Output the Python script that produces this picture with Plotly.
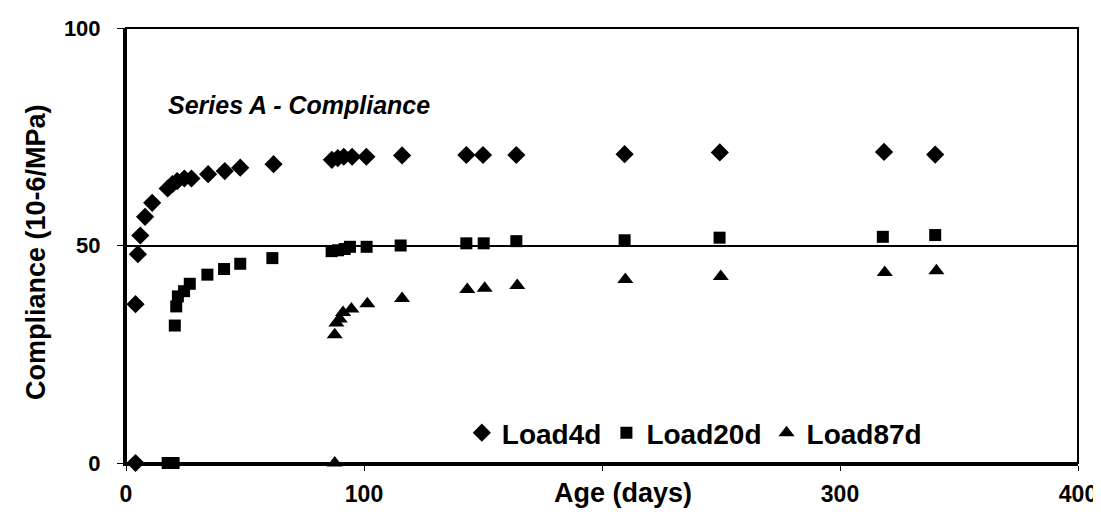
import plotly.graph_objects as go

# Data
load4d_x = [4, 4, 5, 6, 8, 11, 17.5, 19.5, 21.5, 24.5, 27.5, 34.5, 41.5, 48, 62,
            86.5, 89, 91.5, 95, 101, 116, 143, 150, 164, 209.5, 249.5, 318.5, 340]
load4d_y = [0, 36.5, 48, 52.3, 56.6, 59.8, 63.1, 64.1, 64.8, 65.4, 65.4, 66.4, 67.1, 67.9, 68.7,
            69.7, 70.1, 70.4, 70.4, 70.4, 70.7, 70.8, 70.8, 70.8, 71.0, 71.4, 71.5, 70.9]

load20d_x = [17.5, 20, 20.5, 21.1, 21.8, 24.4, 26.8, 34.2, 41.2, 48, 61.5, 86.4, 89.1, 91.9,
             94.1, 101.1, 115.4, 143, 150.3, 164, 209.5, 249.4, 318, 340]
load20d_y = [0, 0, 31.6, 36.0, 38.3, 39.5, 41.2, 43.3, 44.6, 45.8, 47.1, 48.7, 48.9, 49.2,
             49.7, 49.7, 50.0, 50.5, 50.5, 51.0, 51.2, 51.8, 52.0, 52.4]

load87d_x = [87.7, 87.7, 88.4, 89.8, 91.2, 94.7, 101.4, 116, 143.4, 150.7, 164.4, 209.8, 249.9, 318.8, 340.5]
load87d_y = [0, 29.5, 32.2, 33.1, 34.6, 35.4, 36.6, 37.8, 39.9, 40.2, 40.8, 42.2, 42.9, 43.8, 44.2]

x_tickvals = [0, 100, 200, 300, 400]
x_ticktext = ["0", "100", "", "300", "400"]
y_tickvals = [0, 50, 100]

FONT = "Liberation Sans, Arial, sans-serif"

fig = go.Figure()
series = [
    ("Load4d", load4d_x, load4d_y, "diamond", 14),
    ("Load20d", load20d_x, load20d_y, "square", 12),
    ("Load87d", load87d_x, load87d_y, "triangle-up", 14),
]
for name, xs, ys, sym, sz in series:
    fig.add_trace(go.Scatter(
        x=xs, y=ys, mode="markers", name=name, cliponaxis=False,
        marker=dict(symbol=sym, size=sz, color="black", line=dict(width=0)),
    ))

fig.update_layout(
    width=1101, height=514,
    margin=dict(l=118, r=31, t=20, b=59),
    paper_bgcolor="white", plot_bgcolor="white",
    font=dict(family=FONT, color="black", size=20, weight="bold"),
    showlegend=True,
    legend=dict(
        orientation="h", x=0.597, y=0.069, xanchor="center", yanchor="middle",
        font=dict(family=FONT, size=28, weight="bold", color="black"),
        bgcolor="rgba(0,0,0,0)", itemwidth=30, tracegroupgap=0,
    ),
    xaxis=dict(
        range=[0, 400], tickvals=x_tickvals, ticktext=x_ticktext,
        showline=True, linecolor="black", linewidth=3,
        ticks="outside", ticklen=5, tickcolor="black", tickwidth=1,
        showgrid=False, zeroline=False, ticklabelstandoff=3, automargin=False,
        tickfont=dict(family=FONT, size=23, weight="bold"),
    ),
    yaxis=dict(
        range=[0, 100], tickvals=y_tickvals,
        showline=True, linecolor="black", linewidth=3,
        ticks="outside", ticklen=6, tickcolor="black", tickwidth=1,
        showgrid=True, gridcolor="black", gridwidth=1.5, zeroline=False,
        ticklabelstandoff=12, automargin=False,
        tickfont=dict(family=FONT, size=22, weight="bold"),
    ),
    shapes=[dict(type="rect", xref="paper", yref="paper", x0=0, y0=0, x1=1, y1=1,
                 line=dict(color="black", width=2), layer="above")],
    annotations=[
        dict(text="Series A - Compliance", xref="x", yref="y", x=16.8, y=82.4,
             xanchor="left", yanchor="middle", showarrow=False,
             font=dict(family=FONT, size=25, weight="bold", style="italic")),
        dict(text="Age (days)", xref="paper", yref="paper", x=0.522, y=-0.068,
             xanchor="center", yanchor="middle", showarrow=False,
             font=dict(family=FONT, size=27, weight="bold")),
        dict(text="Compliance (10-6/MPa)", xref="paper", yref="paper", x=-0.0945, y=0.485,
             xanchor="center", yanchor="middle", showarrow=False, textangle=-90,
             font=dict(family=FONT, size=27, weight="bold")),
    ],
)

fig.write_html("out.html")
